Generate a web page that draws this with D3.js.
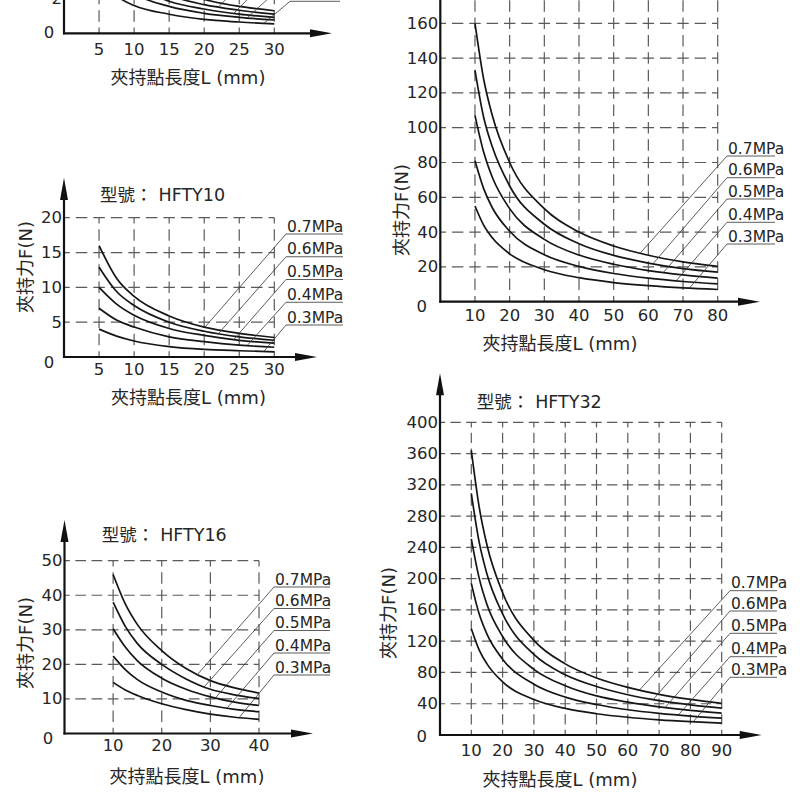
<!DOCTYPE html>
<html>
<head>
<meta charset="utf-8">
<script src="https://cdn.jsdelivr.net/npm/d3@7"></script>
<style>
html, body { margin: 0; padding: 0; background: #fff; }
svg { display: block; }
text { font-family: "DejaVu Sans", "Noto Sans CJK TC", sans-serif; fill: #262626; }
</style>
</head>
<body>
<svg id="chart" width="800" height="794"></svg>
<script>
// ---- data ----
const pressures = ["0.7MPa", "0.6MPa", "0.5MPa", "0.4MPa", "0.3MPa"];
const titlePrefix = "型號：";
const xTitle = "夾持點長度L (mm)";
const yTitle = "夾持力F(N)";

// top-left panel (title cut off above the picture)
const lenA = [5, 7.5, 10, 15, 20, 25, 30];
const forceA = [
	[7.7, 5.2, 3.9, 2.6, 1.95, 1.55, 1.3],
	[6.6, 4.4, 3.3, 2.2, 1.65, 1.33, 1.1],
	[5.5, 3.7, 2.8, 1.85, 1.4, 1.1, 0.92],
	[4.6, 3.1, 2.3, 1.55, 1.15, 0.92, 0.77],
	[3.2, 2.15, 1.6, 1.1, 0.8, 0.65, 0.54]
];
const xTicksA = [5, 10, 15, 20, 25, 30];
const yTicksA = [2, 4, 6, 8];
const leaderA = [20.1, 22, 24.2, 26.1, 28.5];

// HFTY10
const modelB = "HFTY10";
const lenB = [5, 7.5, 10, 15, 20, 25, 30];
const forceB = [
	[16, 11.3, 8.7, 5.9, 4.3, 3.4, 2.8],
	[12.9, 9.4, 7.4, 5.0, 3.7, 2.9, 2.4],
	[10, 7.6, 6.0, 4.1, 3.1, 2.4, 2.0],
	[7, 5.3, 4.3, 2.9, 2.2, 1.7, 1.4],
	[4, 3, 2.3, 1.5, 1.1, 0.9, 0.75]
];
const xTicksB = [5, 10, 15, 20, 25, 30];
const yTicksB = [5, 10, 15, 20];
const leaderB = [20.1, 22, 24.2, 26.1, 28.5];

// HFTY16
const modelC = "HFTY16";
const lenC = [10, 12.5, 15, 20, 25, 30, 35, 40];
const forceC = [
	[46, 37.5, 31.5, 24, 18.8, 15.3, 13.2, 11.7],
	[38, 31, 26, 20, 15.8, 12.8, 11.2, 10.1],
	[30.3, 25, 21, 16, 12.8, 10.6, 9.1, 8.1],
	[22.4, 18.5, 15.6, 12, 9.6, 8.1, 7.0, 6.3],
	[14.8, 12.6, 11, 8.6, 6.9, 5.6, 4.7, 4.1]
];
const xTicksC = [10, 20, 30, 40];
const yTicksC = [10, 20, 30, 40, 50];
const leaderC = [27.3, 28.7, 31, 33.4, 35.9];

// top-right panel (title cut off above the picture)
const lenD = [10, 12.5, 15, 20, 30, 40, 50, 60, 70, 80];
const forceD = [
	[160, 128, 107, 80, 53.5, 40, 32, 26.7, 22.9, 20.3],
	[133, 106, 89, 66.5, 44.5, 33.3, 26.6, 22.2, 19, 17],
	[107, 86, 71.5, 53.5, 35.8, 26.8, 21.5, 17.9, 15.4, 13.6],
	[81, 65, 54, 40.5, 27, 20.3, 16.2, 13.5, 11.6, 10.2],
	[55, 44, 36.7, 27.5, 18.4, 13.8, 11, 9.2, 7.9, 7]
];
const xTicksD = [10, 20, 30, 40, 50, 60, 70, 80];
const yTicksD = [20, 40, 60, 80, 100, 120, 140, 160, 180];
const leaderD = [57.6, 61.3, 64.3, 68, 71.8];

// HFTY32
const modelE = "HFTY32";
const lenE = [10, 12.5, 15, 20, 30, 40, 50, 60, 70, 80, 90];
const forceE = [
	[364, 292, 243, 182, 121, 91, 73, 61, 52, 45.5, 40.5],
	[309, 247, 206, 155, 103, 77, 62, 51.5, 44, 38.6, 34.5],
	[251, 201, 167, 126, 84, 63, 50, 42, 36, 31.4, 28],
	[194, 155, 129, 97, 65, 48.5, 39, 32.3, 27.7, 24.2, 21.5],
	[136, 109, 91, 68, 45.5, 34, 27.2, 22.7, 19.4, 17, 15.1]
];
const xTicksE = [10, 20, 30, 40, 50, 60, 70, 80, 90];
const yTicksE = [40, 80, 120, 160, 200, 240, 280, 320, 360, 400];
const leaderE = [63.7, 68.1, 71.9, 76.1, 80.9];

// ---- layout (pixels) ----
const panels = [
	{ len: lenA, force: forceA, xTicks: xTicksA, yTicks: yTicksA, leader: leaderA, model: null,
	  xMax: 30, yMax: 8, x0: 64, x1: 274.3, y0: 33.3, y1: -105.5, yArrow: -140, xArrow: 332,
	  tickY: 49, zero: [49, 32.3], title: null, xLab: [188, 77.5], yLab: null,
	  labelX: 290, under: [-89.7, -66.9, -44.2, -21.4, 1.3], uw: 50 },
	{ len: lenB, force: forceB, xTicks: xTicksB, yTicks: yTicksB, leader: leaderB, model: modelB,
	  xMax: 30, yMax: 20, x0: 64, x1: 274.3, y0: 357, y1: 217.7, yArrow: 178, xArrow: 317,
	  tickY: 369, zero: [49, 362.7], title: [100, 195], xLab: [188.5, 397.5], yLab: [25, 267],
	  labelX: 286, under: [234, 256.75, 279.5, 302.25, 325], uw: 57 },
	{ len: lenC, force: forceC, xTicks: xTicksC, yTicks: yTicksC, leader: leaderC, model: modelC,
	  xMax: 40, yMax: 50, x0: 64.5, x1: 259, y0: 733.5, y1: 560.7, yArrow: 520, xArrow: 313,
	  tickY: 745, zero: [48, 738], title: [101.7, 535], xLab: [187, 776], yLab: [25, 643],
	  labelX: 274, under: [587, 608.5, 630.5, 653, 675], uw: 56 },
	{ len: lenD, force: forceD, xTicks: xTicksD, yTicks: yTicksD, leader: leaderD, model: null,
	  xMax: 80, yMax: 180, x0: 440.3, x1: 717.7, y0: 301.7, y1: -11.5, yArrow: -40, xArrow: 760,
	  tickY: 315, zero: [421.7, 306.7], title: null, xLab: [560, 343.3], yLab: [401.7, 210],
	  labelX: 727, under: [156, 177.7, 199, 222.3, 244], uw: 48 },
	{ len: lenE, force: forceE, xTicks: xTicksE, yTicks: yTicksE, leader: leaderE, model: modelE,
	  xMax: 90, yMax: 400, x0: 440, x1: 721.7, y0: 735, y1: 422.3, yArrow: 373.3, xArrow: 761.7,
	  tickY: 750.7, zero: [421.7, 736.7], title: [476.7, 402.3], xLab: [560, 779.3], yLab: [388, 613],
	  labelX: 730, under: [590.7, 611, 633.3, 656.7, 677.3], uw: 47 }
];

const svg = d3.select("#chart");

function dashFor(cell) {
	const period = cell / Math.max(1, Math.round(cell / 17.3));
	const dash = period * 0.66;
	return { array: `${dash} ${period - dash}`, offset: dash / 2 };
}

// point on a drawn path where x equals tx (path x is increasing)
function pointAtX(node, tx) {
	let lo = 0, hi = node.getTotalLength();
	for (let k = 0; k < 40; k++) {
		const mid = (lo + hi) / 2;
		if (node.getPointAtLength(mid).x < tx) lo = mid; else hi = mid;
	}
	return node.getPointAtLength(hi);
}

function drawPanel(p) {
	const g = svg.append("g");
	const x = d3.scaleLinear().domain([0, p.xMax]).range([p.x0, p.x1]);
	const y = d3.scaleLinear().domain([0, p.yMax]).range([p.y0, p.y1]);

	const hd = dashFor(x(p.xTicks[1]) - x(p.xTicks[0]));
	const vd = dashFor(y(p.yTicks[0]) - y(p.yTicks[1]));

	// dashed grid
	g.selectAll(".hgrid").data(p.yTicks).enter().append("path")
		.attr("d", d => `M${x(0)},${y(d)}H${x(p.xMax)}`)
		.attr("stroke", "#5a5a5a").attr("stroke-width", 1.2).attr("fill", "none")
		.attr("stroke-dasharray", hd.array).attr("stroke-dashoffset", hd.offset);
	g.selectAll(".vgrid").data(p.xTicks).enter().append("path")
		.attr("d", d => `M${x(d)},${y(0)}V${y(p.yMax)}`)
		.attr("stroke", "#5a5a5a").attr("stroke-width", 1.2).attr("fill", "none")
		.attr("stroke-dasharray", vd.array).attr("stroke-dashoffset", vd.offset);

	// axes with arrow heads
	g.append("line").attr("x1", p.x0).attr("y1", p.y0 + 1).attr("x2", p.x0).attr("y2", p.yArrow + 12)
		.attr("stroke", "#111").attr("stroke-width", 2.2);
	g.append("line").attr("x1", p.x0 - 1).attr("y1", p.y0).attr("x2", p.xArrow - 12).attr("y2", p.y0)
		.attr("stroke", "#111").attr("stroke-width", 2.2);
	g.append("path")
		.attr("d", `M${p.x0},${p.yArrow}L${p.x0 + 4},${p.yArrow + 22}L${p.x0 - 4},${p.yArrow + 22}Z`)
		.attr("fill", "#111");
	g.append("path")
		.attr("d", `M${p.xArrow},${p.y0}L${p.xArrow - 22},${p.y0 - 4}L${p.xArrow - 22},${p.y0 + 4}Z`)
		.attr("fill", "#111");

	// tick labels (those wholly above the picture are left out)
	g.selectAll(".xt").data(p.xTicks).enter().append("text")
		.attr("x", d => x(d)).attr("y", p.tickY)
		.attr("text-anchor", "middle").attr("dominant-baseline", "central")
		.attr("font-size", 16.5).text(d => d);
	g.selectAll(".yt").data(p.yTicks.filter(d => y(d) > -5)).enter().append("text")
		.attr("x", p.x0 - 2).attr("y", d => y(d))
		.attr("text-anchor", "end").attr("dominant-baseline", "central")
		.attr("font-size", 16.5).text(d => d);
	g.append("text").attr("x", p.zero[0]).attr("y", p.zero[1])
		.attr("text-anchor", "middle").attr("dominant-baseline", "central")
		.attr("font-size", 16.5).text(0);

	// titles
	if (p.title) {
		const t = g.append("text").attr("x", p.title[0]).attr("y", p.title[1])
			.attr("dominant-baseline", "central").attr("font-size", 17.5);
		t.append("tspan").text(titlePrefix);
		t.append("tspan").attr("dx", 6).text(p.model);
	}
	g.append("text").attr("x", p.xLab[0]).attr("y", p.xLab[1])
		.attr("text-anchor", "middle").attr("dominant-baseline", "central")
		.attr("font-size", 18).text(xTitle);
	if (p.yLab) {
		g.append("text")
			.attr("transform", `translate(${p.yLab[0]},${p.yLab[1]}) rotate(-90)`)
			.attr("text-anchor", "middle").attr("dominant-baseline", "central")
			.attr("font-size", 18).text(yTitle);
	}

	// curves
	const line = d3.line()
		.x((d, i) => x(p.len[i]))
		.y(d => y(d))
		.curve(d3.curveMonotoneX);
	const curves = g.selectAll(".curve").data(p.force).enter().append("path")
		.attr("d", d => line(d))
		.attr("fill", "none").attr("stroke", "#151515").attr("stroke-width", 1.7);

	// pressure labels with leader lines
	curves.each(function (d, i) {
		const pt = pointAtX(this, x(p.leader[i]));
		const uy = p.under[i];
		g.append("line").attr("x1", p.labelX).attr("y1", uy).attr("x2", pt.x).attr("y2", pt.y)
			.attr("stroke", "#333").attr("stroke-width", 0.8);
		g.append("line").attr("x1", p.labelX).attr("y1", uy).attr("x2", p.labelX + p.uw).attr("y2", uy)
			.attr("stroke", "#333").attr("stroke-width", 0.8);
		if (uy > 10) {
			g.append("text").attr("x", p.labelX + 1).attr("y", uy - 2.5)
				.attr("font-size", 15.5).text(pressures[i]);
		}
	});
}

panels.forEach(drawPanel);
</script>
</body>
</html>
